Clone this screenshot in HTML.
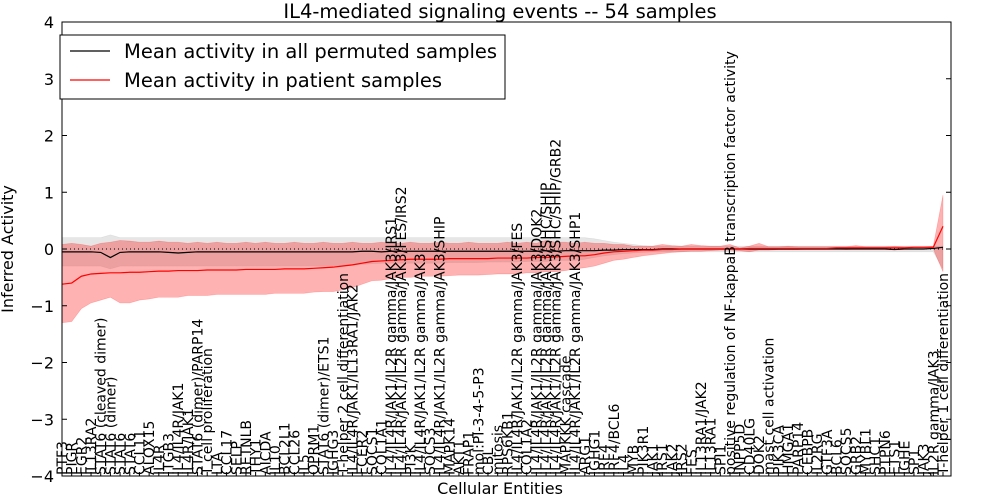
<!DOCTYPE html>
<html><head><meta charset="utf-8"><style>
body{margin:0;background:#fff;}
svg{display:block;font-family:"DejaVu Sans","Liberation Sans",sans-serif;}
</style></head><body>
<svg id="chart" width="1000" height="500" viewBox="0 0 1000 500"></svg>
<script>
const labels=["PTF3","PIGR","EGR2","IL13RA2","STAT6 (cleaved dimer)","STAT6 (dimer)","STAT6","STAT6","CCL11","ALOX15","IL4R","ITGB3","IL4/IL4R/JAK1","IL4R/JAK1","STAT6 (dimer)/PARP14","T cell proliferation","LTA","CCL17","SELP","RETNLB","THY1","AICDA","IL10","BCL2L1","CCL26","IL5","OPRM1","STAT6 (dimer)/ETS1","IGHG3","T-helper 2 cell differentiation","IL4/IL4R/JAK1/IL13RA1/JAK2","FCER2","SOCS1","COL1A1","IL4/IL4R/JAK1/IL2R gamma/JAK3/IRS1","IL4/IL4R/JAK1/IL2R gamma/JAK3/FES/IRS2","PI3K","IL4/IL4R/JAK1/IL2R gamma/JAK3","SOCS3","IL4/IL4R/JAK1/IL2R gamma/JAK3/SHIP","MAPK14","AKT1","FRAP1","mol:PI-3-4-5-P3","CBL","mitosis","RPS6KB1","IL4/IL4R/JAK1/IL2R gamma/JAK3/FES","COL1A2","IL4/IL4R/JAK1/IL2R gamma/JAK3/DOK2","IL4/IL4R/JAK1/IL2R gamma/JAK3/SHC/SHIP","IL4/IL4R/JAK1/IL2R gamma/JAK3/SHC/SHIP/GRB2","MAPKKK cascade","IL4/IL4R/JAK1/IL2R gamma/JAK3/SHP1","ARG1","IGHG1","IRF4","IRF4/BCL6","IL4","MYB","PIK3R1","JAK1","IRS1","JAK2","IRS2","FES","IL13RA1/JAK2","IL13RA1","SPI1","positive regulation of NF-kappaB transcription factor activity","INPP5D","CD40LG","DOK2","mast cell activation","PIK3CA","HMGA1","PARP14","CEBPB","IL2RG","GTF3A","BCL6","SOCS5","GRB2","MYBL1","SHC1","PTPN6","ETS1","IGHE","SP1","JAK3","IL2R gamma/JAK3","T-helper 1 cell differentiation"];
const patientMean=[-0.62,-0.60,-0.48,-0.44,-0.43,-0.42,-0.42,-0.41,-0.41,-0.40,-0.39,-0.39,-0.38,-0.38,-0.38,-0.37,-0.37,-0.37,-0.37,-0.36,-0.36,-0.36,-0.36,-0.35,-0.35,-0.35,-0.34,-0.33,-0.32,-0.30,-0.28,-0.25,-0.22,-0.21,-0.20,-0.19,-0.18,-0.18,-0.18,-0.18,-0.17,-0.17,-0.17,-0.17,-0.17,-0.16,-0.16,-0.16,-0.16,-0.15,-0.15,-0.14,-0.13,-0.12,-0.12,-0.10,-0.07,-0.05,-0.04,-0.03,-0.02,-0.02,-0.01,-0.01,0,0,0,0,0,0,0,0.01,0.01,0.01,0.01,0.01,0.01,0.01,0.01,0.01,0.02,0.02,0.02,0.02,0.02,0.02,0.02,0.02,0.03,0.03,0.03,0.40];
const patientUpper=[0.08,0.10,0.08,0.05,0.10,0.12,0.15,0.14,0.12,0.12,0.14,0.12,0.12,0.10,0.12,0.10,0.12,0.10,0.10,0.12,0.10,0.12,0.10,0.10,0.12,0.10,0.10,0.12,0.10,0.10,0.12,0.10,0.10,0.12,0.10,0.10,0.12,0.10,0.10,0.12,0.10,0.10,0.12,0.10,0.10,0.10,0.12,0.10,0.12,0.10,0.15,0.12,0.12,0.10,0.12,0.10,0.10,0.08,0.08,0.05,0.05,0.05,0.08,0.06,0.05,0.08,0.06,0.05,0.05,0.08,0.02,0.05,0.10,0.04,0.04,0.05,0.04,0.04,0.04,0.04,0.04,0.04,0.06,0.04,0.04,0.04,0.05,0.04,0.04,0.04,0.05,0.95];
const patientLower=[-1.30,-1.28,-1.05,-0.95,-0.90,-0.85,-0.95,-0.95,-0.90,-0.88,-0.85,-0.85,-0.85,-0.82,-0.82,-0.82,-0.80,-0.80,-0.80,-0.80,-0.80,-0.80,-0.78,-0.78,-0.78,-0.78,-0.76,-0.75,-0.75,-0.72,-0.68,-0.62,-0.56,-0.55,-0.52,-0.50,-0.50,-0.48,-0.48,-0.48,-0.47,-0.46,-0.46,-0.46,-0.45,-0.44,-0.44,-0.44,-0.42,-0.42,-0.40,-0.40,-0.38,-0.35,-0.33,-0.30,-0.25,-0.20,-0.18,-0.15,-0.12,-0.10,-0.08,-0.06,-0.05,-0.04,-0.04,-0.03,-0.02,-0.02,-0.03,-0.05,-0.02,-0.02,-0.01,-0.01,-0.01,0,0,0,0,-0.01,0,0,0,0,0,0,0,0,0,-0.40];
const permMean=[-0.05,-0.05,-0.05,-0.05,-0.06,-0.15,-0.06,-0.05,-0.05,-0.05,-0.05,-0.06,-0.07,-0.06,-0.05,-0.05,-0.05,-0.05,-0.05,-0.05,-0.05,-0.05,-0.05,-0.05,-0.05,-0.05,-0.05,-0.05,-0.05,-0.05,-0.05,-0.04,-0.04,-0.05,-0.04,-0.04,-0.04,-0.04,-0.04,-0.04,-0.04,-0.04,-0.04,-0.04,-0.04,-0.04,-0.04,-0.04,-0.04,-0.04,-0.03,-0.04,-0.03,-0.03,-0.03,-0.03,-0.02,-0.02,-0.01,-0.01,-0.01,-0.01,0,0,0,0,0,0,0,0,0,0,0,0,0,0,0,0,0,0,0,0,0,0,0,0,-0.01,0,0,0,0.01,0.03];
const permUpper=[0.20,0.20,0.20,0.20,0.20,0.25,0.20,0.20,0.20,0.20,0.20,0.20,0.20,0.20,0.20,0.20,0.20,0.20,0.20,0.20,0.20,0.20,0.20,0.20,0.20,0.20,0.20,0.20,0.20,0.20,0.20,0.20,0.20,0.20,0.20,0.20,0.20,0.20,0.20,0.20,0.20,0.20,0.20,0.20,0.20,0.20,0.20,0.20,0.20,0.20,0.20,0.20,0.20,0.20,0.20,0.18,0.15,0.12,0.10,0.08,0.06,0.05,0.05,0.05,0.05,0.05,0.05,0.05,0.05,0.05,0.05,0.05,0.05,0.05,0.05,0.05,0.05,0.05,0.05,0.05,0.05,0.05,0.05,0.05,0.05,0.05,0.05,0.05,0.05,0.05,0.05,0.05];
const permLower=[-0.30,-0.30,-0.30,-0.30,-0.30,-0.35,-0.30,-0.30,-0.30,-0.30,-0.30,-0.30,-0.30,-0.30,-0.30,-0.30,-0.30,-0.30,-0.30,-0.30,-0.30,-0.30,-0.30,-0.30,-0.30,-0.30,-0.30,-0.30,-0.30,-0.30,-0.28,-0.27,-0.26,-0.25,-0.25,-0.25,-0.25,-0.25,-0.25,-0.25,-0.24,-0.24,-0.24,-0.24,-0.23,-0.23,-0.23,-0.23,-0.22,-0.22,-0.22,-0.20,-0.20,-0.20,-0.18,-0.15,-0.12,-0.10,-0.08,-0.07,-0.06,-0.05,-0.05,-0.05,-0.05,-0.05,-0.05,-0.05,-0.05,-0.05,-0.05,-0.05,-0.05,-0.05,-0.05,-0.05,-0.05,-0.05,-0.05,-0.05,-0.05,-0.05,-0.05,-0.05,-0.05,-0.05,-0.05,-0.05,-0.05,-0.05,-0.05,-0.35];
const yTicks=[-4,-3,-2,-1,0,1,2,3,4];

const svg=document.getElementById('chart');
const NS='http://www.w3.org/2000/svg';
const L=62,R=951,T=22,B=476;
const xs=i=>L+i*(943-L)/(labels.length-1);
const ys=v=>T+(4-v)*(B-T)/8;
function mk(tag,attrs,parent){const e=document.createElementNS(NS,tag);for(const k in attrs)e.setAttribute(k,attrs[k]);(parent||svg).appendChild(e);return e;}
function band(up,lo,fill,op,name){let d='M'+up.map((v,i)=>xs(i)+','+ys(v)).join('L');for(let i=lo.length-1;i>=0;i--)d+='L'+xs(i)+','+ys(lo[i]);d+='Z';const p=mk('path',{d:d,fill:fill,'fill-opacity':op,stroke:fill,'stroke-opacity':op*0.8,'stroke-width':0.6});

}
function line(arr,color,name){const p=mk('path',{d:'M'+arr.map((v,i)=>xs(i)+','+ys(v)).join('L'),fill:'none',stroke:color,'stroke-width':1.2});

}
band(permUpper,permLower,'#808080',0.2,'permuted-band');
band(patientUpper,patientLower,'#ff0000',0.3,'patient-band');
const zl=mk('line',{x1:L,x2:R,y1:ys(0),y2:ys(0),stroke:'#000','stroke-dasharray':'1,3','stroke-width':1});


line(permMean,'#000','permuted-mean-line');
line(patientMean,'#ff0000','patient-mean-line');
const fr=mk('rect',{x:L,y:T,width:R-L,height:B-T,fill:'none',stroke:'#000','stroke-width':1});


yTicks.forEach(t=>{const y=ys(t);mk('line',{x1:L,x2:L+5,y1:y,y2:y,stroke:'#000'});mk('line',{x1:R-5,x2:R,y1:y,y2:y,stroke:'#000'});
const tx=mk('text',{x:L-8,y:y+6,'text-anchor':'end','font-size':16});tx.textContent=(t<0?'\u2212':'')+Math.abs(t);

});
labels.forEach((s,i)=>{const x=xs(i);mk('line',{x1:x,x2:x,y1:B,y2:B-4,stroke:'#000'});
const tx=mk('text',{x:0,y:0,transform:`translate(${x+5},${B-1}) rotate(-90)`,'font-size':14});tx.textContent=s;

});
const ti=mk('text',{x:500,y:18,'text-anchor':'middle','font-size':19.5});ti.textContent='IL4-mediated signaling events -- 54 samples';


const xt=mk('text',{x:500,y:494,'text-anchor':'middle','font-size':16});xt.textContent='Cellular Entities';


const yt=mk('text',{x:0,y:0,transform:'translate(13,249) rotate(-90)','text-anchor':'middle','font-size':16});yt.textContent='Inferred Activity';


const lg=mk('g',{});


mk('rect',{x:60,y:35,width:445,height:64,fill:'#fff',stroke:'#000'},lg);
mk('line',{x1:70,x2:110,y1:51,y2:51,stroke:'#000','stroke-width':1.2},lg);
mk('line',{x1:70,x2:110,y1:80,y2:80,stroke:'#ff0000','stroke-width':1.2},lg);
const l1=mk('text',{x:124,y:58,'font-size':19.5},lg);l1.textContent='Mean activity in all permuted samples';


const l2=mk('text',{x:124,y:87,'font-size':19.5},lg);l2.textContent='Mean activity in patient samples';


</script>
</body></html>
